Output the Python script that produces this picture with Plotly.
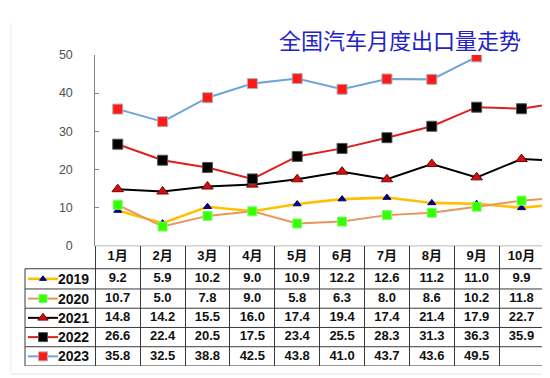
import plotly.graph_objects as go

# ---------------- data ----------------
months = ["1月", "2月", "3月", "4月", "5月", "6月", "7月", "8月", "9月", "10月", "11月"]
years = ["2019", "2020", "2021", "2022", "2023"]
v2019 = [9.2, 5.9, 10.2, 9.0, 10.9, 12.2, 12.6, 11.2, 11.0, 9.9, 11.1]
v2020 = [10.7, 5.0, 7.8, 9.0, 5.8, 6.3, 8.0, 8.6, 10.2, 11.8, 12.7]
v2021 = [14.8, 14.2, 15.5, 16.0, 17.4, 19.4, 17.4, 21.4, 17.9, 22.7, 22.1]
v2022 = [26.6, 22.4, 20.5, 17.5, 23.4, 25.5, 28.3, 31.3, 36.3, 35.9, 37.7]
v2023 = [35.8, 32.5, 38.8, 42.5, 43.8, 41.0, 43.7, 43.6, 49.5]
y_ticks = [0, 10, 20, 30, 40, 50]
title_text = "全国汽车月度出口量走势"

series = [v2019, v2020, v2021, v2022, v2023]

# ---------------- styles ----------------
styles = [
    dict(line="#FFC000", lw=2.6, sym="triangle-up", msize=7, mcol="#000080", mline="#000080"),
    dict(line="#E9965A", lw=2.0, sym="square", msize=9, mcol="#33FF00", mline="#7CFC6A"),
    dict(line="#000000", lw=2.0, sym="triangle-up", msize=10, mcol="#CC1111", mline="#7A0000"),
    dict(line="#E01E1E", lw=2.0, sym="square", msize=10, mcol="#000000", mline="#555555"),
    dict(line="#6FA5D8", lw=2.0, sym="square", msize=10, mcol="#FF1A1A", mline="#B0B0B0"),
]

W, H = 550, 378
def px(x): return x / W
def py(y): return 1 - y / H

X0 = 109.7      # pixel center of first category
STEP = 44.87    # pixel width of one category
def idx(p): return (p - X0) / STEP

top_range = [-0.5, idx(W)]
tab_range = [idx(17), idx(W)]

# table row boundaries (pixel offsets from table top)
row_bounds = [0, 24, 45, 65, 85, 105, 125]
row_centers = [(row_bounds[i] + row_bounds[i + 1]) / 2 for i in range(6)]
TAB_TOP = 239.5

fig = go.Figure()

# chart lines
for s, vals, yr in zip(styles, series, years):
    fig.add_trace(go.Scatter(
        x=list(range(len(vals))), y=vals, mode="lines+markers",
        line=dict(color=s["line"], width=s["lw"]),
        marker=dict(symbol=s["sym"], size=s["msize"], color=s["mcol"],
                    line=dict(color=s["mline"], width=1)),
        name=yr, showlegend=False, xaxis="x", yaxis="y", cliponaxis=True,
    ))

cell_font = dict(family="Liberation Sans, Arial, Noto Sans CJK SC", size=13, color="#111111")

# header row (months)
fig.add_trace(go.Scatter(
    x=list(range(len(months))), y=[row_centers[0]] * len(months), mode="text",
    text=["<b>%s</b>" % m for m in months], textfont=cell_font,
    xaxis="x2", yaxis="y2", showlegend=False, cliponaxis=True, hoverinfo="skip",
))

# value rows
for r, vals in enumerate(series):
    fig.add_trace(go.Scatter(
        x=list(range(len(vals))), y=[row_centers[r + 1]] * len(vals), mode="text",
        text=["<b>%.1f</b>" % v for v in vals], textfont=cell_font,
        xaxis="x2", yaxis="y2", showlegend=False, cliponaxis=True, hoverinfo="skip",
    ))

# legend glyphs in the table's first column
lx0, lx1, lxm = idx(20), idx(50), idx(35)
for r, s in enumerate(styles):
    yc = row_centers[r + 1]
    fig.add_trace(go.Scatter(
        x=[lx0, lxm, lx1], y=[yc, yc, yc], mode="lines",
        line=dict(color=s["line"], width=s["lw"]),
        xaxis="x2", yaxis="y2", showlegend=False, hoverinfo="skip",
    ))
    fig.add_trace(go.Scatter(
        x=[lxm], y=[yc], mode="markers",
        marker=dict(symbol=s["sym"], size=s["msize"] - 1, color=s["mcol"],
                    line=dict(color=s["mline"], width=1)),
        xaxis="x2", yaxis="y2", showlegend=False, hoverinfo="skip",
    ))

annotations = []
for r, yr in enumerate(years):
    annotations.append(dict(
        x=idx(83), y=row_centers[r + 1], xref="x2", yref="y2", text="<b>%s</b>" % yr,
        showarrow=False, xanchor="right", yanchor="middle",
        font=dict(family="Liberation Sans, Arial", size=14, color="#111111"),
    ))
annotations.append(dict(
    x=px(392), y=py(25), xref="paper", yref="paper", text=title_text,
    showarrow=False, xanchor="center", yanchor="middle",
    font=dict(family="Noto Sans CJK SC", size=22, color="#2222C8"),
))

grid_col = "#3A3A3A"
shapes = []
# table horizontal lines
shapes.append(dict(type="line", xref="paper", yref="y2", x0=px(87.3), x1=1,
                   y0=row_bounds[0], y1=row_bounds[0], line=dict(color=grid_col, width=1)))
for b in row_bounds[1:]:
    shapes.append(dict(type="line", xref="paper", yref="y2", x0=px(17), x1=1,
                       y0=b, y1=b, line=dict(color=grid_col, width=1)))
# left border of the legend column
shapes.append(dict(type="line", xref="paper", yref="y2", x0=px(17), x1=px(17),
                   y0=row_bounds[1], y1=row_bounds[-1], line=dict(color=grid_col, width=1)))
# faint image border
shapes.append(dict(type="line", xref="paper", yref="paper", x0=px(3), x1=1,
                   y0=py(373), y1=py(373), line=dict(color="#E4E4E4", width=1)))
shapes.append(dict(type="line", xref="paper", yref="paper", x0=px(3), x1=px(3),
                   y0=py(373), y1=py(8), line=dict(color="#EEEEEE", width=1)))

fig.update_layout(
    width=W, height=H, margin=dict(l=0, r=0, t=0, b=0),
    paper_bgcolor="white", plot_bgcolor="rgba(0,0,0,0)",
    xaxis=dict(domain=[px(87.3), 1], range=top_range, showticklabels=False,
               showgrid=False, zeroline=False, showline=False, ticks=""),
    yaxis=dict(domain=[py(TAB_TOP), py(41.5)], range=[0, 50], tickvals=y_ticks,
               showgrid=False, zeroline=False, showline=True, linecolor="#858585",
               linewidth=1, ticks="inside", ticklen=4, tickcolor="#858585",
               ticklabelstandoff=19,
               tickfont=dict(family="Liberation Sans, Arial", size=12.5, color="#505050")),
    xaxis2=dict(domain=[px(17), 1], range=tab_range, anchor="y2",
                tickvals=[i - 0.5 for i in range(len(months) + 1)],
                showticklabels=False, showgrid=True, gridcolor=grid_col, gridwidth=1,
                zeroline=False, showline=False, ticks=""),
    yaxis2=dict(domain=[py(TAB_TOP + row_bounds[-1]), py(TAB_TOP)],
                range=[row_bounds[-1], row_bounds[0]], anchor="x2",
                showticklabels=False, showgrid=False, zeroline=False, showline=False),
    annotations=annotations, shapes=shapes,
)

fig.write_html("out.html")
